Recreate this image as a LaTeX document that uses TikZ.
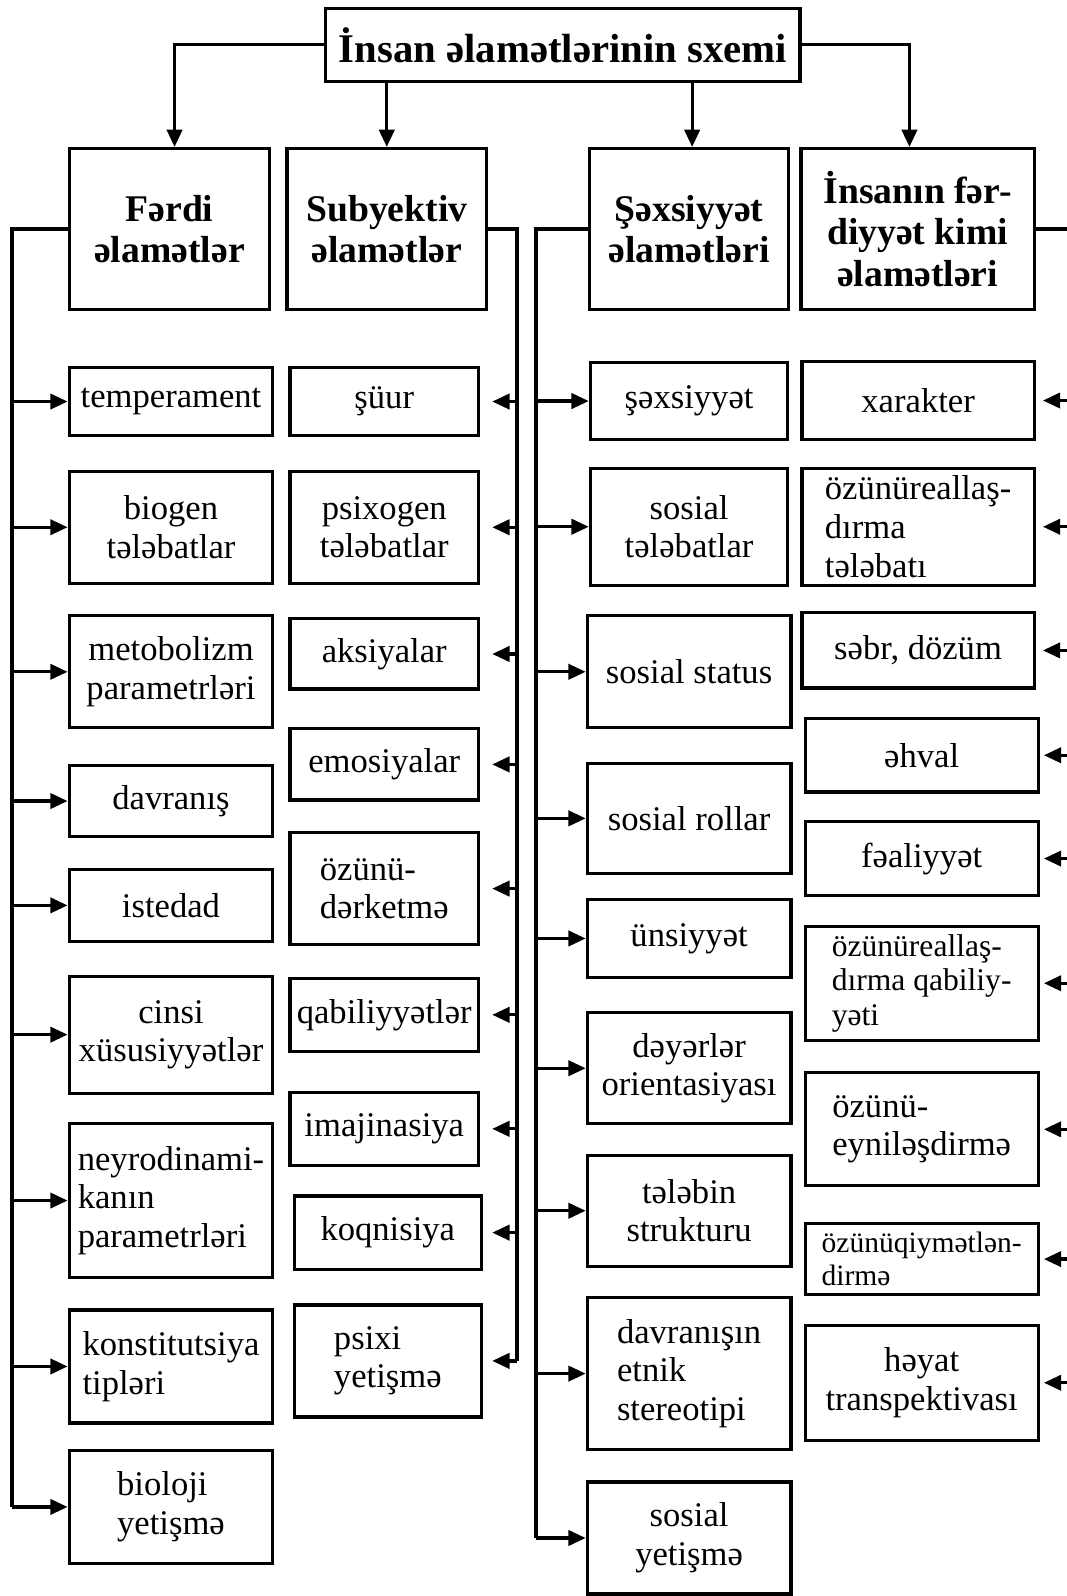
\documentclass[tikz,border=0pt]{standalone}
\usepackage{fontspec}
\setmainfont{Liberation Serif}
\usepackage{tikz}
\usetikzlibrary{arrows.meta, positioning}

\begin{document}
\begin{tikzpicture}[
    x=1pt, y=-1pt,
    dims/.style 2 args={minimum width=#1pt, minimum height=#2pt},
    head/.style={draw, line width=3.2pt, inner sep=2pt, align=center,
                 font=\fontsize{37}{41}\selectfont\bfseries},
    item/.style={draw, line width=3.2pt, inner sep=2pt, align=center,
                 font=\fontsize{34}{38}\selectfont},
    itemL/.style={item, align=left},
    arr/.style={-{Triangle[length=17pt, width=15pt]}, line width=3.2pt},
    trunk/.style={line width=4pt}
]
\useasboundingbox (0,0) rectangle (1048,1568);

\node[head, dims={466}{72}, font=\fontsize{40}{44}\selectfont\bfseries] (title) at (553,44) {İnsan əlamətlərinin sxemi};

\node[head, dims={197}{158}] (fardi) at (166.5,225) {Fərdi\\əlamətlər};
\node[head, dims={196}{158}] (subj) at (380,225) {Subyektiv\\əlamətlər};
\node[head, dims={196}{158}] (shx) at (677,225) {Şəxsiyyət\\əlamətləri};
\node[head, dims={229}{158}] (ins) at (901.5,225) {İnsanın fər-\\diyyət kimi\\əlamətləri};

% Fərdi
\node[item, dims={200}{67}] (f1) at (168,394.5) {temperament};
\node[item, dims={200}{110}] (f2) at (168,518) {biogen\\tələbatlar};
\node[item, dims={200}{110}] (f3) at (168,660) {metobolizm\\parametrləri};
\node[item, dims={200}{70}] (f4) at (168,787) {davranış};
\node[item, dims={200}{71}] (f5) at (168,889.5) {istedad};
\node[item, dims={200}{115}] (f6) at (168,1016.5) {cinsi\\xüsusiyyətlər};
\node[itemL, dims={200}{151}] (f7) at (168,1179.5) {neyrodinami-\\kanın\\parametrləri};
\node[itemL, dims={200}{111}] (f8) at (168,1342.5) {konstitutsiya\\tipləri};
\node[itemL, dims={200}{111}] (f9) at (168,1480.5) {bioloji\\yetişmə};

% Subyektiv
\node[item, dims={185}{67}] (s1) at (377.5,394.5) {şüur};
\node[item, dims={185}{110}] (s2) at (377.5,518) {psixogen\\tələbatlar};
\node[item, dims={185}{69}] (s3) at (377.5,642.5) {aksiyalar};
\node[item, dims={185}{70}] (s4) at (377.5,751) {emosiyalar};
\node[itemL, dims={185}{110}] (s5) at (377.5,873) {özünü-\\dərketmə};
\node[item, dims={185}{72}] (s6) at (377.5,997) {qabiliyyətlər};
\node[item, dims={185}{72}] (s7) at (377.5,1109) {imajinasiya};
\node[item, dims={184}{72}] (s8) at (381,1211) {koqnisiya};
\node[itemL, dims={184}{110}] (s9) at (381,1337) {psixi\\yetişmə};

% Şəxsiyyət
\node[item, dims={194}{76}] (x1) at (677,394) {şəxsiyyət};
\node[item, dims={194}{115}] (x2) at (677,517.5) {sosial\\tələbatlar};
\node[item, dims={200}{110}] (x3) at (677,660) {sosial status};
\node[item, dims={200}{108}] (x4) at (677,804) {sosial rollar};
\node[item, dims={200}{76}] (x5) at (677,922) {ünsiyyət};
\node[item, dims={200}{109}] (x6) at (677,1049.5) {dəyərlər\\orientasiyası};
\node[item, dims={200}{109}] (x7) at (677,1189.5) {tələbin\\strukturu};
\node[itemL, dims={200}{149}] (x8) at (677,1349.5) {davranışın\\etnik\\stereotipi};
\node[item, dims={200}{110}] (x9) at (677,1511) {sosial\\yetişmə};

% İnsanın fərdiyyəti
\node[item, dims={228}{77}] (i1) at (902,393.5) {xarakter};
\node[itemL, dims={228}{115}] (i2) at (902,517.5) {özünüreallaş-\\dırma\\tələbatı};
\node[item, dims={228}{74}] (i3) at (902,639) {səbr, dözüm};
\node[item, dims={229}{72}] (i4) at (905.5,742) {əhval};
\node[item, dims={229}{73}] (i5) at (905.5,843.5) {fəaliyyət};
\node[itemL, dims={229}{112}, font=\fontsize{31}{34}\selectfont] (i6) at (905.5,966) {özünüreallaş-\\dırma qabiliy-\\yəti};
\node[itemL, dims={229}{111}] (i7) at (905.5,1109.5) {özünü-\\eyniləşdirmə};
\node[itemL, dims={229}{70}, font=\fontsize{29}{32}\selectfont] (i8) at (905.5,1237) {özünüqiymətlən-\\dirmə};
\node[item, dims={229}{113}] (i9) at (905.5,1358.5) {həyat\\transpektivası};

\coordinate (fl) at (12,0);
\coordinate (sr) at (508,0);
\coordinate (xl) at (527,0);
\coordinate (ir) at (1058,0);

\draw[arr] (title.west) -| ([xshift=5pt]fardi.north);
\draw[arr] (title.south -| subj) -- (subj);
\draw[arr] ([xshift=3pt]title.south -| shx) -- ([xshift=3pt]shx.north);
\draw[arr] (title.east) -| ([xshift=-8pt]ins.north);

\draw[trunk] (fardi.west) -| (fl |- f9);
\draw[trunk] (subj.east) -| (sr |- s9);
\draw[trunk] (shx.west) -| (xl |- x9);
\draw[trunk] (ins.east) -| (ir |- i9);

\draw[arr] (fl |- f1) -- (f1);
\draw[arr] (fl |- f2) -- (f2);
\draw[arr] (fl |- f3) -- (f3);
\draw[arr] (fl |- f4) -- (f4);
\draw[arr] (fl |- f5) -- (f5);
\draw[arr] (fl |- f6) -- (f6);
\draw[arr] (fl |- f7) -- (f7);
\draw[arr] (fl |- f8) -- (f8);
\draw[arr] (fl |- f9) -- (f9);

\draw[arr, shorten >=12pt] (sr |- s1) -- (s1);
\draw[arr, shorten >=12pt] (sr |- s2) -- (s2);
\draw[arr, shorten >=12pt] (sr |- s3) -- (s3);
\draw[arr, shorten >=12pt] (sr |- s4) -- (s4);
\draw[arr, shorten >=12pt] (sr |- s5) -- (s5);
\draw[arr, shorten >=12pt] (sr |- s6) -- (s6);
\draw[arr, shorten >=12pt] (sr |- s7) -- (s7);
\draw[arr, shorten >=9pt] (sr |- s8) -- (s8);
\draw[arr, shorten >=9pt] (sr |- s9) -- (s9);

\draw[arr] (xl |- x1) -- (x1);
\draw[arr] (xl |- x2) -- (x2);
\draw[arr] (xl |- x3) -- (x3);
\draw[arr] (xl |- x4) -- (x4);
\draw[arr] (xl |- x5) -- (x5);
\draw[arr] (xl |- x6) -- (x6);
\draw[arr] (xl |- x7) -- (x7);
\draw[arr] (xl |- x8) -- (x8);
\draw[arr] (xl |- x9) -- (x9);

\draw[arr, shorten >=7pt] (ir |- i1) -- (i1);
\draw[arr, shorten >=7pt] (ir |- i2) -- (i2);
\draw[arr, shorten >=7pt] (ir |- i3) -- (i3);
\draw[arr, shorten >=4pt] (ir |- i4) -- (i4);
\draw[arr, shorten >=4pt] (ir |- i5) -- (i5);
\draw[arr, shorten >=4pt] (ir |- i6) -- (i6);
\draw[arr, shorten >=4pt] (ir |- i7) -- (i7);
\draw[arr, shorten >=4pt] (ir |- i8) -- (i8);
\draw[arr, shorten >=4pt] (ir |- i9) -- (i9);
\end{tikzpicture}
\end{document}
